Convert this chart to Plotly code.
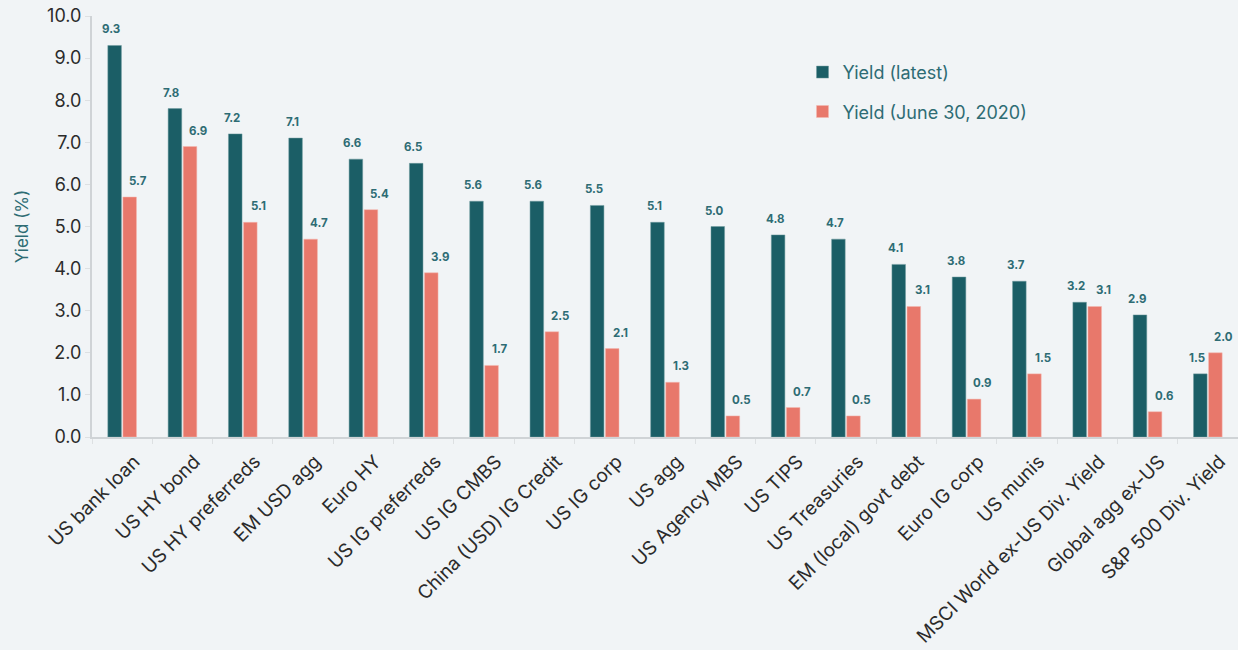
import plotly.graph_objects as go

categories = [
    "US bank loan", "US HY bond", "US HY preferreds", "EM USD agg", "Euro HY",
    "US IG preferreds", "US IG CMBS", "China (USD) IG Credit", "US IG corp",
    "US agg", "US Agency MBS", "US TIPS", "US Treasuries", "EM (local) govt debt",
    "Euro IG corp", "US munis", "MSCI World ex-US Div. Yield", "Global agg ex-US",
    "S&P 500 Div. Yield",
]
yield_latest = [9.3, 7.8, 7.2, 7.1, 6.6, 6.5, 5.6, 5.6, 5.5, 5.1, 5.0, 4.8, 4.7,
                4.1, 3.8, 3.7, 3.2, 2.9, 1.5]
yield_2020 = [5.7, 6.9, 5.1, 4.7, 5.4, 3.9, 1.7, 2.5, 2.1, 1.3, 0.5, 0.7, 0.5,
              3.1, 0.9, 1.5, 3.1, 0.6, 2.0]
y_ticks = [0, 1, 2, 3, 4, 5, 6, 7, 8, 9, 10]

TEAL = "#1b5e66"
SALMON = "#e8786b"
LABEL = "#2e6c74"
BG = "#f1f4f6"
FONT = "Inter, Open Sans, sans-serif"

fig = go.Figure()
fig.add_trace(go.Bar(
    x=categories, y=yield_latest, name="Yield (latest)",
    marker=dict(color=TEAL, line=dict(color="#6f9a9e", width=0.5)),
    legendgroup="a",
))
fig.add_trace(go.Bar(
    x=categories, y=yield_2020, name="Yield (June 30, 2020)",
    marker=dict(color=SALMON, line=dict(color="#f5b8b0", width=0.5)),
    legendgroup="b",
))

# value labels above each bar
for cat, v in zip(categories, yield_latest):
    fig.add_annotation(x=cat, y=v, text=f"{v:.1f}", showarrow=False,
                       xshift=-11, yshift=16, yanchor="middle",
                       font=dict(family=FONT, size=11.5, color=LABEL, weight="bold"))
for cat, v in zip(categories, yield_2020):
    fig.add_annotation(x=cat, y=v, text=f"{v:.1f}", showarrow=False,
                       xshift=16, yshift=16, yanchor="middle",
                       font=dict(family=FONT, size=11.5, color=LABEL, weight="bold"))

fig.update_layout(
    width=1238, height=650,
    barmode="group", bargap=0.5, bargroupgap=0.1,
    paper_bgcolor=BG, plot_bgcolor=BG,
    margin=dict(l=92, r=0, t=16, b=213),
    font=dict(family=FONT, color="#2b2b2b"),
    showlegend=True,
    legend=dict(x=0.62, y=0.91, xanchor="left", yanchor="top",
                bgcolor="rgba(0,0,0,0)", tracegroupgap=13,
                font=dict(family=FONT, size=18, color=LABEL)),
    xaxis=dict(
        tickangle=-45, tickfont=dict(family=FONT, size=19, color="#2b2b2b"),
        ticklabelstandoff=4, ticklabelshift=12, automargin=False,
        showline=True, linecolor="#cfd3d6", linewidth=2,
        ticks="outside", tickcolor="#dde0e2", ticklen=5,
        tickson="boundaries", showgrid=False,
    ),
    yaxis=dict(
        range=[0, 10], tickvals=y_ticks,
        ticktext=[f"{t:.1f}" for t in y_ticks],
        tickfont=dict(family=FONT, size=18, color="#2b2b2b"),
        showline=True, linecolor="#cfd3d6", linewidth=2,
        ticks="outside", tickcolor="#dde0e2", ticklen=5,
        showgrid=False, zeroline=False, automargin=False,
        title=dict(text="Yield (%)", font=dict(family=FONT, size=17, color=LABEL),
                   standoff=14),
    ),
)

fig.write_html("out.html")
